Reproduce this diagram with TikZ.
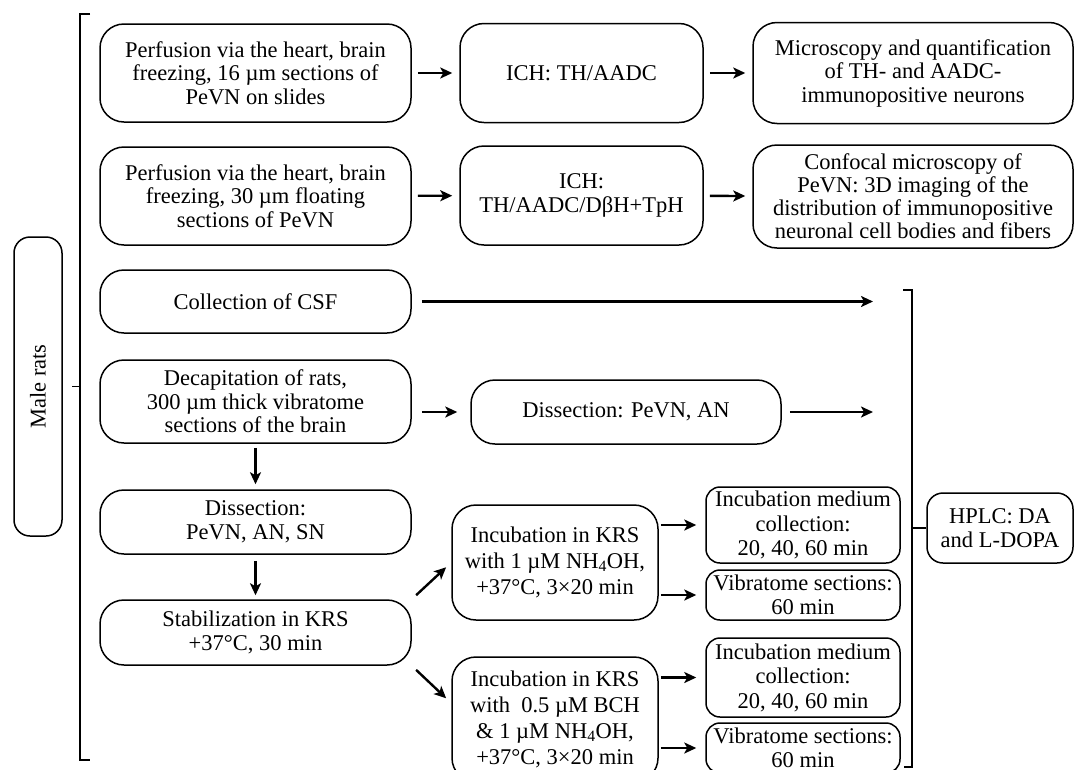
\documentclass[tikz,border=0pt]{standalone}
\usepackage{fontspec}
\setmainfont{Liberation Serif}
\usetikzlibrary{arrows.meta,positioning,calc}

\begin{document}
\begin{tikzpicture}[
  x=1pt,y=-1pt,
  box/.style={draw,line width=1.5pt,rounded corners=24pt,align=center,inner sep=0pt,
              font=\fontsize{22.5}{23.5}\selectfont},
  leftbox/.style={box,minimum width=311pt},
  midbox/.style={box,minimum width=243pt,minimum height=99pt},
  rightbox/.style={box,minimum width=320pt},
  incbox/.style={box,minimum width=206pt,font=\fontsize{22.5}{26}\selectfont},
  smallbox/.style={box,rounded corners=14pt,minimum width=194pt,font=\fontsize{22.5}{24.5}\selectfont},
  arr/.style={-{Stealth[length=12pt,width=11pt,inset=3pt]},line width=2.4pt,shorten <=6pt,shorten >=7pt},
  brace/.style={line width=1.5pt}
]
\useasboundingbox (0,0) rectangle (1075,769);

% left column
\node[box,rounded corners=16pt,rotate=90,minimum width=299pt,minimum height=48pt] (rats) at (38,386.5) {Male rats};
\node[leftbox,minimum height=98pt] (perfslides) at (255.5,73) {Perfusion via the heart, brain\\freezing, 16 µm sections of\\PeVN on slides};
\node[leftbox,minimum height=98pt] (perffloat) at (255.5,196) {Perfusion via the heart, brain\\freezing, 30 µm floating\\sections of PeVN};
\node[leftbox,minimum height=63pt] (csf) at (255.5,301.5) {Collection of CSF};
\node[leftbox,minimum height=83pt] (decap) at (255.5,401.5) {Decapitation of rats,\\300 µm thick vibratome\\sections of the brain};
\node[leftbox,minimum height=64pt] (dissectall) at (255.5,522) {Dissection:\\PeVN, AN, SN};
\node[leftbox,minimum height=65pt] (stabil) at (255.5,632.5) {Stabilization in KRS\\+37°C, 30 min};

% immunohistochemistry rows
\node[midbox] (ichslides) at (581.5,73) {ICH: TH/AADC};
\node[midbox] (ichfloat) at (581.5,195.5) {ICH:\\TH/AADC/DβH+TpH};
\node[rightbox,minimum height=101pt] (quant) at (913,73) {Microscopy and quantification\\of TH- and AADC-\\immunopositive neurons};
\node[rightbox,minimum height=103pt,font=\fontsize{22.5}{23}\selectfont] (confocal) at (913,196.5) {Confocal microscopy of\\PeVN: 3D imaging of the\\distribution of immunopositive\\neuronal cell bodies and fibers};

% dissection and incubation
\node[box,minimum width=310pt,minimum height=64pt] (dissect) at (626,412) {Dissection: PeVN, AN};
\node[incbox,minimum height=115pt] (incnh) at (555,562.5) {Incubation in KRS\\with 1 µM NH\textsubscript{4}OH,\\+37°C, 3×20 min};
\node[incbox,minimum height=125pt] (incbch) at (555,719.5) {Incubation in KRS\\with \ 0.5 µM BCH\\\& 1 µM NH\textsubscript{4}OH,\\+37°C, 3×20 min};
\node[smallbox,minimum height=76pt] (mediumnh) at (803,525) {Incubation medium\\collection:\\20, 40, 60 min};
\node[smallbox,minimum height=50pt] (sectnh) at (803,595) {Vibratome sections:\\60 min};
\node[smallbox,minimum height=79pt] (mediumbch) at (803,677.5) {Incubation medium\\collection:\\20, 40, 60 min};
\node[smallbox,minimum height=50pt] (sectbch) at (803,748) {Vibratome sections:\\60 min};
\node[box,rounded corners=16pt,minimum width=146pt,minimum height=70pt,font=\fontsize{22.5}{24}\selectfont] (hplc) at (1000,528) {HPLC: DA\\and L-DOPA};

% brackets
\draw[brace] (90,14) -- (80,14) -- (80,760) -- (90,760);
\draw[brace] (80,386.5) -- (72,386.5);
\draw[brace] (903,290) -- (912,290) -- (912,767) -- (904,767);
\draw[brace] (912,528) -- (hplc.west);
\coordinate (incsf) at (873,301.5);
\coordinate (inan) at (873,412);

% arrows
\draw[arr] (perfslides) -- (ichslides);
\draw[arr] (ichslides) -- (quant);
\draw[arr] (perffloat) -- (ichfloat);
\draw[arr] (ichfloat) -- (confocal);
\draw[arr,shorten >=0pt,shorten <=10pt] (csf) -- (incsf);
\draw[arr,shorten <=10pt,shorten >=13pt] (decap.east |- dissect) -- (dissect.west);
\draw[arr,shorten >=0pt,shorten <=8pt] (dissect) -- (inan);
\draw[arr,shorten <=4pt,shorten >=5pt] (decap) -- (dissectall);
\draw[arr,shorten <=6pt,shorten >=4pt] (dissectall) -- (stabil);
\draw[arr,shorten <=6pt,shorten >=7pt] (stabil.north east) -- (incnh.west);
\draw[arr,shorten <=6pt,shorten >=7pt] (stabil.south east) -- (incbch.171);
\draw[arr,shorten <=2pt,shorten >=9pt] (incnh.east |- mediumnh) -- (mediumnh.west);
\draw[arr,shorten <=2pt,shorten >=9pt] (incnh.east |- sectnh) -- (sectnh.west);
\draw[arr,shorten <=2pt,shorten >=9pt] (incbch.east |- mediumbch) -- (mediumbch.west);
\draw[arr,shorten <=2pt,shorten >=9pt] (incbch.east |- sectbch) -- (sectbch.west);
\end{tikzpicture}
\end{document}
